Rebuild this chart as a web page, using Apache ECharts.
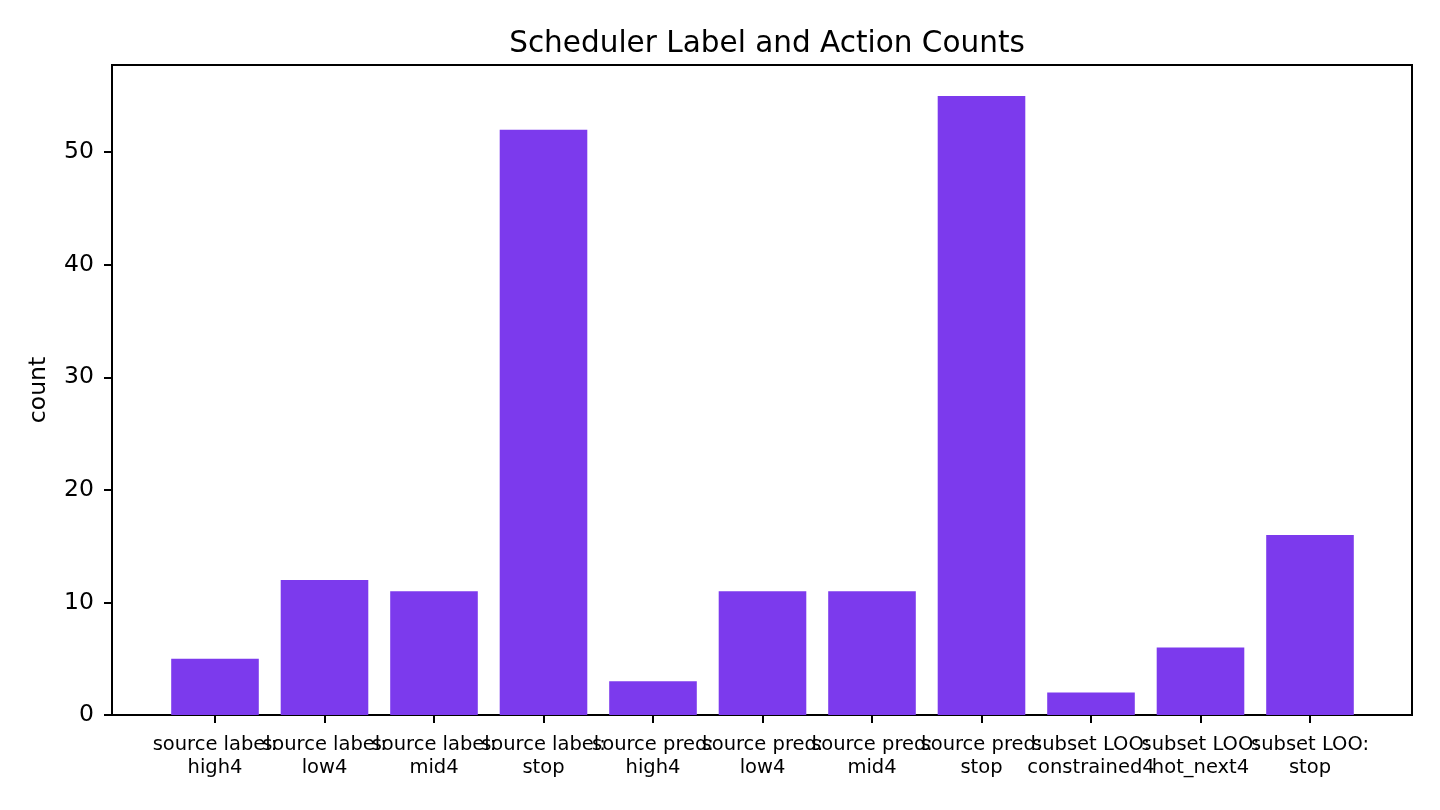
<!DOCTYPE html>
<html lang="en">
<head>
    <meta charset="UTF-8">
    <title>Scheduler Label and Action Counts</title>
    <script src="https://cdn.jsdelivr.net/npm/echarts@6/dist/echarts.min.js"></script>
</head>
<body style="margin:0">
<div id="main" style="width:1440px;height:810px;"></div>

<script type="text/javascript">
    var categories = [
        'source label:\nhigh4', 'source label:\nlow4', 'source label:\nmid4', 'source label:\nstop',
        'source pred:\nhigh4', 'source pred:\nlow4', 'source pred:\nmid4', 'source pred:\nstop',
        'subset LOO:\nconstrained4', 'subset LOO:\nhot_next4', 'subset LOO:\nstop'
    ];
    var counts = [5, 12, 11, 52, 3, 11, 11, 55, 2, 6, 16];
    var yTicks = [0, 10, 20, 30, 40, 50];

    var myChart = echarts.init(document.getElementById('main'));
    var font = 'DejaVu Sans';

    var option = {
        backgroundColor: '#ffffff',
        animation: false,
        title: {
            text: 'Scheduler Label and Action Counts',
            left: 762,
            textAlign: 'center',
            top: 24,
            textStyle: {fontFamily: font, fontSize: 29.5, fontWeight: 'normal', color: '#000', lineHeight: 30}
        },
        grid: [
            // bars
            {left: 160.25, right: 75.25, top: 65, bottom: 95},
            // frame
            {left: 112, right: 28, top: 65, bottom: 95, show: true, borderColor: '#000', borderWidth: 2, backgroundColor: 'transparent'}
        ],
        xAxis: [{
            type: 'category',
            gridIndex: 0,
            data: categories,
            axisLine: {show: false},
            axisTick: {show: true, alignWithLabel: true, length: 8, lineStyle: {color: '#000', width: 2}},
            axisLabel: {interval: 0, fontFamily: font, fontSize: 19.5, color: '#000', lineHeight: 23.5, margin: 18}
        }, {
            type: 'value', gridIndex: 1, show: false
        }],
        yAxis: [{
            type: 'value',
            gridIndex: 0,
            min: 0,
            max: 57.75,
            offset: 48.25,
            name: 'count',
            nameLocation: 'middle',
            nameGap: 61,
            nameTextStyle: {fontFamily: font, fontSize: 23.5, color: '#000'},
            axisLine: {show: false},
            splitLine: {show: false},
            axisTick: {show: true, length: 8, lineStyle: {color: '#000', width: 2}, customValues: yTicks},
            axisLabel: {fontFamily: font, fontSize: 23.5, color: '#000', margin: 18, customValues: yTicks}
        }, {
            type: 'value', gridIndex: 1, show: false
        }],
        series: [{
            type: 'bar',
            xAxisIndex: 0,
            yAxisIndex: 0,
            data: counts,
            barWidth: '80%',
            itemStyle: {color: '#7c3aed'}
        }]
    };
    myChart.setOption(option);
</script>

</body>
</html>
